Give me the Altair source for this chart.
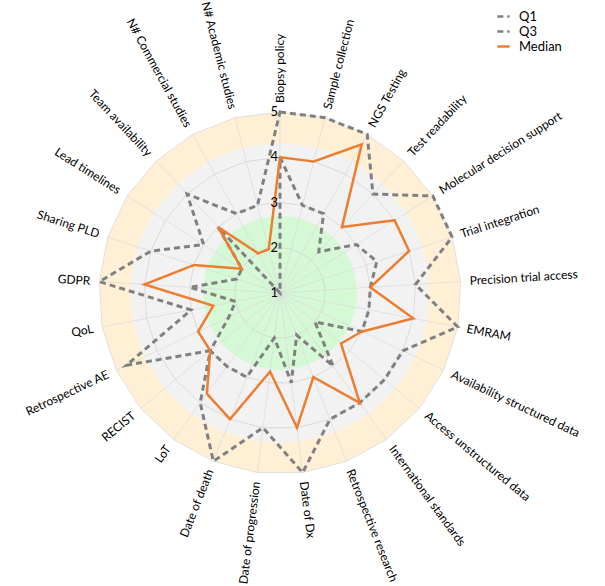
import altair as alt
import pandas as pd

# ---------------- data ----------------
categories = [
    "Biopsy policy", "Sample collection", "NGS Testing", "Test readability",
    "Molecular decision support", "Trial integration", "Precision trial access",
    "EMRAM", "Availability structured data", "Access unstructured data",
    "International standards", "Retrospective research", "Date of Dx",
    "Date of progression", "Date of death", "LoT", "RECIST", "Retrospective AE",
    "QoL", "GDPR", "Sharing PLD", "Lead timelines", "Team availability",
    "N# Commercial studies", "N# Academic studies",
]
q1 = [4, 3, 3, 2.25, 3, 3.25, 3, 3, 3, 2, 3, 2, 3, 2, 3, 3, 3, 2.25, 2, 3, 2, 2, 3, 1, 1]
q3 = [5, 5, 5, 4, 5, 5, 4, 5, 4, 4, 4, 4, 5, 4, 5, 4, 3, 4.75, 3, 5, 4, 3, 4, 3, 3]
median = [4, 4, 4.75, 3, 4, 4, 3, 4, 3, 2.75, 4, 3, 4, 2.75, 4, 3.75, 3, 3, 2.5, 4, 3, 2, 3, 2, 2]
series_names = ["Q1", "Q3", "Median"]
ring_ticks = [1, 2, 3, 4, 5]
grid_levels = [2, 3, 4]
outer_level = 5
gray_band_level = 4.3
green_band_level = 2.7

# ---------------- geometry / style ----------------
W, H = 605, 586
CX, CY = 280, 293
K = 45.25          # pixels per unit
RMIN = 1
N = len(categories)
LABEL_R = 5.2

xs = alt.Scale(domain=[-CX / K, (W - CX) / K], nice=False, zero=False)
ys = alt.Scale(domain=[-(H - CY) / K, CY / K], nice=False, zero=False)
rs = alt.Scale(type="linear", domain=[0, 4], range=[0, 4 * K], zero=True)
FONT = "Lato"

rows = []
for name, vals in zip(series_names, [q1, q3, median]):
    for i, (c, v) in enumerate(zip(categories, vals)):
        rows.append({"series": name, "category": c, "idx": i, "value": v})
df = pd.DataFrame(rows)

cat_df = pd.DataFrame({"category": categories, "idx": list(range(N))})
grid_df = pd.DataFrame(
    [{"level": L, "idx": i} for L in grid_levels + [outer_level] for i in range(N)]
)


def to_xy(chart, rexpr):
    return chart.transform_calculate(
        theta=f"datum.idx * 2 * PI / {N}"
    ).transform_calculate(
        r=rexpr
    ).transform_calculate(
        x="datum.r * sin(datum.theta)", y="datum.r * cos(datum.theta)"
    )


# outer orange polygon
outer = to_xy(
    alt.Chart(cat_df).mark_line(
        interpolate="linear-closed", fill="#FFF0D5", stroke="#D9D9D9", strokeWidth=0.8
    ),
    f"{outer_level} - {RMIN}",
).encode(
    x=alt.X("x:Q", scale=xs, axis=None),
    y=alt.Y("y:Q", scale=ys, axis=None),
    order=alt.Order("idx:Q"),
)

band_df = pd.DataFrame({"level": [gray_band_level, green_band_level],
                        "fill": ["#F2F2F2", "#D4F9D4"]})

gray_band = alt.Chart(band_df).transform_filter("datum.fill == '#F2F2F2'").transform_calculate(
    r=f"datum.level - {RMIN}"
).mark_arc(theta=0, theta2=6.2832, color="#F2F2F2").encode(
    x=alt.datum(0, scale=xs), y=alt.datum(0, scale=ys),
    radius=alt.Radius("r:Q", scale=rs),
)
green_band = alt.Chart(band_df).transform_filter("datum.fill == '#D4F9D4'").transform_calculate(
    r=f"datum.level - {RMIN}"
).mark_arc(theta=0, theta2=6.2832, color="#D4F9D4").encode(
    x=alt.datum(0, scale=xs), y=alt.datum(0, scale=ys),
    radius=alt.Radius("r:Q", scale=rs),
)

grid = to_xy(
    alt.Chart(grid_df).transform_filter(f"datum.level < {outer_level}").mark_line(
        interpolate="linear-closed", stroke="#D0D0D0", strokeWidth=0.7
    ),
    f"datum.level - {RMIN}",
).encode(
    x=alt.X("x:Q", scale=xs), y=alt.Y("y:Q", scale=ys),
    detail="level:N", order=alt.Order("idx:Q"),
)

spokes = alt.Chart(cat_df).transform_calculate(
    theta=f"datum.idx * 2 * PI / {N}"
).transform_calculate(
    x0="0", y0="0",
    x2=f"({outer_level} - {RMIN}) * sin(datum.theta)",
    y2=f"({outer_level} - {RMIN}) * cos(datum.theta)",
).mark_rule(color="#DADADA", strokeWidth=0.7).encode(
    x=alt.X("x0:Q", scale=xs), y=alt.Y("y0:Q", scale=ys),
    x2="x2:Q", y2="y2:Q",
)

color_scale = alt.Scale(domain=series_names, range=["#808080", "#808080", "#ED7D31"])
dash_scale = alt.Scale(domain=series_names, range=[[6, 4], [6, 4], [1, 0]])
legend = alt.Legend(
    title=None, orient="none", legendX=496, legendY=9,
    symbolType="stroke", symbolSize=150, symbolStrokeWidth=2.5,
    labelFont=FONT, labelFontSize=13, labelColor="#000000",
    rowPadding=0, labelOffset=8,
)

dashed = to_xy(
    alt.Chart(df).transform_filter("datum.series != 'Median'").mark_line(
        interpolate="linear-closed", strokeWidth=3
    ),
    f"datum.value - {RMIN}",
).encode(
    x=alt.X("x:Q", scale=xs), y=alt.Y("y:Q", scale=ys),
    color=alt.Color("series:N", scale=color_scale, legend=legend),
    strokeDash=alt.StrokeDash("series:N", scale=dash_scale, legend=legend),
    order=alt.Order("idx:Q"),
)

med = to_xy(
    alt.Chart(df).transform_filter("datum.series == 'Median'").mark_line(
        interpolate="linear-closed", strokeWidth=2.5
    ),
    f"datum.value - {RMIN}",
).encode(
    x=alt.X("x:Q", scale=xs), y=alt.Y("y:Q", scale=ys),
    color=alt.Color("series:N", scale=color_scale, legend=legend),
    strokeDash=alt.StrokeDash("series:N", scale=dash_scale, legend=legend),
    order=alt.Order("idx:Q"),
)

ticks = alt.Chart(pd.DataFrame({"tick": ring_ticks})).transform_calculate(
    x="0", y=f"datum.tick - {RMIN}", lab="'' + datum.tick"
).mark_text(align="right", baseline="middle", dx=-2, fontSize=13, font=FONT, color="#000000").encode(
    x=alt.X("x:Q", scale=xs), y=alt.Y("y:Q", scale=ys), text="lab:N",
)

lab_base = alt.Chart(cat_df).transform_calculate(
    theta=f"datum.idx * 2 * PI / {N}",
    deg=f"datum.idx * 360 / {N}",
).transform_calculate(
    x=f"({LABEL_R} - {RMIN}) * sin(datum.theta)",
    y=f"({LABEL_R} - {RMIN}) * cos(datum.theta)",
    ang="datum.deg < 180 ? (datum.deg + 270) % 360 : (datum.deg + 90) % 360",
)

labels_right = lab_base.transform_filter("datum.deg < 180").mark_text(
    align="left", baseline="middle", fontSize=12, font=FONT, color="#000000"
).encode(
    x=alt.X("x:Q", scale=xs), y=alt.Y("y:Q", scale=ys),
    text="category:N", angle=alt.Angle("ang:Q", scale=None),
)
labels_left = lab_base.transform_filter("datum.deg >= 180").mark_text(
    align="right", baseline="middle", fontSize=12, font=FONT, color="#000000"
).encode(
    x=alt.X("x:Q", scale=xs), y=alt.Y("y:Q", scale=ys),
    text="category:N", angle=alt.Angle("ang:Q", scale=None),
)

chart = alt.layer(
    outer, gray_band, green_band, grid, spokes, dashed, med, ticks,
    labels_right, labels_left,
).properties(
    width=W, height=H, padding=0, autosize=alt.AutoSizeParams(type="none"),
    background="white",
).configure_view(stroke=None)

chart.save("out.html", embed_options={"renderer": "svg", "actions": False})
